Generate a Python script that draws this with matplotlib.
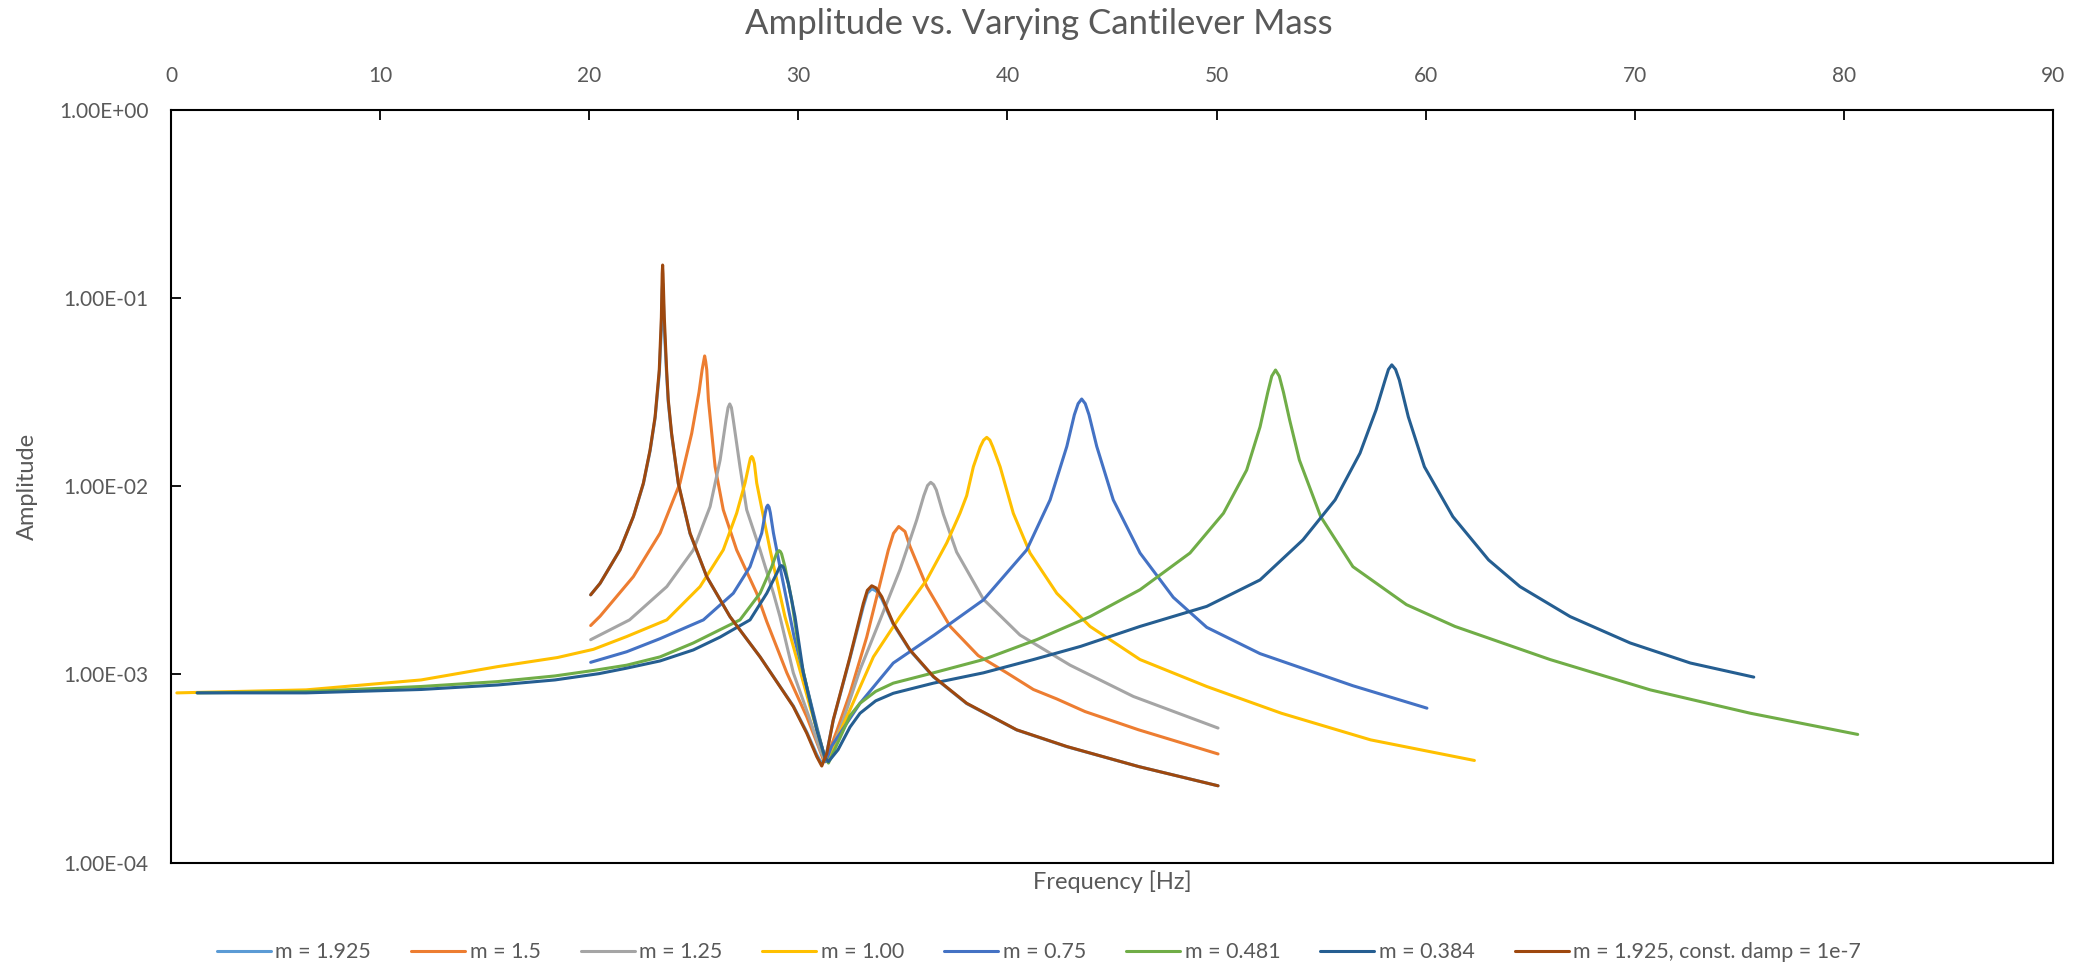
import matplotlib
matplotlib.use('Agg')
import matplotlib.pyplot as plt
from matplotlib.ticker import FixedLocator, FuncFormatter, NullLocator

plt.rcParams['font.family'] = ['Lato', 'DejaVu Sans']

# values (frequency in Hz, amplitude)
f_brown = [20.07, 20.52, 21.47, 22.11, 22.59, 22.91, 23.15, 23.35, 23.45, 23.49, 23.51, 23.53,
           23.59, 23.70, 23.78, 23.94, 24.26, 24.82, 25.62, 26.73, 28.17, 29.12,
           29.76, 30.40, 30.88, 31.12, 31.36, 31.67, 32.47, 33.11, 33.30, 33.51, 33.72, 33.99,
           34.54, 35.34, 36.46, 38.05, 40.44, 42.84, 46.27, 50.07]
a_brown = [2.65e-3, 3.05e-3, 4.59e-3, 6.90e-3, 1.04e-2, 1.56e-2, 2.34e-2, 4.16e-2, 7.94e-2, 0.135, 0.150, 0.135,
           7.94e-2, 4.17e-2, 2.88e-2, 1.91e-2, 1.04e-2, 5.64e-3, 3.31e-3, 2.03e-3, 1.24e-3, 8.63e-4,
           6.75e-4, 4.88e-4, 3.66e-4, 3.26e-4, 3.80e-4, 5.74e-4, 1.24e-3, 2.39e-3, 2.80e-3, 2.96e-3, 2.88e-3, 2.59e-3,
           1.87e-3, 1.35e-3, 9.75e-4, 7.03e-4, 5.08e-4, 4.14e-4, 3.24e-4, 2.56e-4]

f_m1925 = f_brown
a_m1925 = [2.65e-3, 3.05e-3, 4.59e-3, 6.90e-3, 1.03e-2, 1.54e-2, 2.30e-2, 3.95e-2, 6.90e-2, 0.110, 0.120, 0.110,
           6.90e-2, 3.95e-2, 2.80e-2, 1.88e-2, 1.03e-2, 5.60e-3, 3.30e-3, 2.03e-3, 1.24e-3, 8.65e-4,
           6.80e-4, 4.95e-4, 3.75e-4, 3.35e-4, 3.85e-4, 5.70e-4, 1.22e-3, 2.30e-3, 2.70e-3, 2.85e-3, 2.78e-3, 2.52e-3,
           1.85e-3, 1.34e-3, 9.70e-4, 7.00e-4, 5.07e-4, 4.13e-4, 3.24e-4, 2.56e-4]

f_m15 = [20.07, 20.52, 22.11, 23.39, 24.34, 24.90, 25.25, 25.40, 25.47, 25.52, 25.57, 25.62,
         25.70, 26.02, 26.41, 27.05, 28.01, 28.49, 29.45, 30.40, 30.96, 31.23,
         31.50, 31.84, 32.47, 33.27, 33.91, 34.30, 34.55, 34.80, 35.10, 35.34,
         36.14, 37.26, 38.60, 39.97, 41.24, 42.36, 43.71, 46.27, 50.07]
a_m15 = [1.82e-3, 2.04e-3, 3.31e-3, 5.64e-3, 1.04e-2, 1.91e-2, 3.16e-2, 4.17e-2, 4.60e-2, 4.93e-2, 4.60e-2, 4.17e-2,
         2.88e-2, 1.27e-2, 7.50e-3, 4.59e-3, 2.70e-3, 1.91e-3, 1.02e-3, 5.97e-4, 4.14e-4, 3.44e-4,
         3.98e-4, 5.01e-4, 7.94e-4, 1.58e-3, 3.05e-3, 4.57e-3, 5.62e-3, 6.11e-3, 5.75e-3, 4.79e-3,
         2.93e-3, 1.80e-3, 1.26e-3, 1.02e-3, 8.32e-4, 7.41e-4, 6.35e-4, 5.08e-4, 3.78e-4]

f_m125 = [20.07, 21.93, 23.71, 24.98, 25.78, 26.26, 26.54, 26.64, 26.72, 26.80, 26.89, 27.21,
          27.53, 28.17, 28.81, 29.12, 29.76, 30.56, 31.04, 31.30, 31.60, 32.15,
          32.95, 33.91, 34.86, 35.66, 36.00, 36.18, 36.33, 36.47, 36.60, 36.94, 37.57, 38.85,
          40.60, 43.00, 46.02, 50.07]
a_m125 = [1.53e-3, 1.95e-3, 2.93e-3, 4.59e-3, 7.80e-3, 1.38e-2, 2.25e-2, 2.62e-2, 2.74e-2, 2.62e-2, 2.25e-2, 1.27e-2,
          7.50e-3, 4.59e-3, 2.70e-3, 2.03e-3, 1.02e-3, 5.74e-4, 3.97e-4, 3.44e-4, 3.98e-4, 5.74e-4,
          1.06e-3, 1.95e-3, 3.60e-3, 6.62e-3, 8.91e-3, 1.01e-2, 1.05e-2, 1.02e-2, 9.55e-3, 7.08e-3, 4.47e-3, 2.51e-3,
          1.62e-3, 1.12e-3, 7.64e-4, 5.19e-4]

f_m100 = [0.28, 6.46, 11.96, 15.61, 18.48, 20.20, 21.79, 23.71, 25.30, 26.41,
          27.05, 27.45, 27.65, 27.71, 27.77, 27.83, 27.90, 28.01, 28.33, 28.65, 29.04, 29.36,
          29.76, 30.56, 31.12, 31.31, 31.60, 32.47, 33.59, 34.86, 36.14, 37.10,
          37.73, 38.05, 38.37, 38.70, 38.86, 39.01, 39.16, 39.30, 39.65, 40.28, 41.08, 42.36,
          43.95, 46.34, 49.53, 53.10, 57.37, 62.33]
a_m100 = [7.98e-4, 8.28e-4, 9.35e-4, 1.10e-3, 1.23e-3, 1.36e-3, 1.59e-3, 1.95e-3, 2.93e-3, 4.59e-3,
          7.19e-3, 1.04e-2, 1.32e-2, 1.41e-2, 1.44e-2, 1.41e-2, 1.32e-2, 1.04e-2, 6.90e-3, 4.59e-3, 2.93e-3, 2.03e-3,
          1.41e-3, 6.75e-4, 4.14e-4, 3.44e-4, 3.98e-4, 6.49e-4, 1.24e-3, 2.03e-3, 3.18e-3, 5.01e-3,
          7.19e-3, 8.91e-3, 1.27e-2, 1.62e-2, 1.76e-2, 1.82e-2, 1.76e-2, 1.62e-2, 1.27e-2, 7.19e-3, 4.42e-3, 2.70e-3,
          1.80e-3, 1.20e-3, 8.63e-4, 6.22e-4, 4.49e-4, 3.49e-4]

f_m075 = [20.07, 21.79, 23.39, 25.46, 26.89, 27.69, 28.25, 28.42, 28.48, 28.54, 28.60, 28.66,
          28.81, 29.12, 29.44, 29.80, 30.24, 30.88, 31.31, 31.60, 32.95, 34.54,
          36.50, 38.85, 40.92, 42.04, 42.84, 43.20, 43.38, 43.55, 43.72, 43.90, 44.27, 45.06,
          46.34, 47.93, 49.53, 52.08, 56.52, 60.06]
a_m075 = [1.16e-3, 1.32e-3, 1.55e-3, 1.95e-3, 2.70e-3, 3.74e-3, 5.64e-3, 7.24e-3, 7.75e-3, 7.94e-3, 7.75e-3, 7.24e-3,
          5.64e-3, 3.74e-3, 2.49e-3, 1.58e-3, 1.02e-3, 5.28e-4, 3.44e-4, 4.17e-4, 7.03e-4, 1.15e-3,
          1.62e-3, 2.49e-3, 4.59e-3, 8.47e-3, 1.63e-2, 2.40e-2, 2.75e-2, 2.91e-2, 2.75e-2, 2.40e-2, 1.63e-2, 8.47e-3,
          4.42e-3, 2.57e-3, 1.78e-3, 1.29e-3, 8.71e-4, 6.62e-4]

f_m0481 = [1.25, 6.46, 11.96, 15.61, 18.36, 20.20, 21.79, 23.39, 24.98, 26.26,
           27.21, 28.17, 28.73, 28.95, 29.02, 29.08, 29.14, 29.20, 29.36, 29.68, 30.08, 30.72,
           31.20, 31.44, 31.90, 32.47, 32.95, 33.70, 34.54, 36.46, 38.85, 41.40,
           43.95, 46.34, 48.73, 50.33, 51.44, 52.08, 52.45, 52.64, 52.82, 53.00, 53.20, 53.50,
           53.96, 54.98, 56.52, 59.08, 61.40, 65.95, 70.74, 75.53, 80.66]
a_m0481 = [7.98e-4, 8.11e-4, 8.63e-4, 9.16e-4, 9.82e-4, 1.05e-3, 1.12e-3, 1.24e-3, 1.47e-3, 1.73e-3,
           1.95e-3, 2.70e-3, 3.74e-3, 4.37e-3, 4.50e-3, 4.55e-3, 4.50e-3, 4.37e-3, 3.74e-3, 2.49e-3, 1.24e-3, 5.97e-4,
           3.82e-4, 3.38e-4, 4.37e-4, 6.03e-4, 7.03e-4, 8.13e-4, 8.99e-4, 1.02e-3, 1.20e-3, 1.53e-3,
           2.03e-3, 2.82e-3, 4.42e-3, 7.19e-3, 1.22e-2, 2.07e-2, 3.16e-2, 3.85e-2, 4.15e-2, 3.85e-2, 3.16e-2, 2.24e-2,
           1.38e-2, 6.90e-3, 3.74e-3, 2.35e-3, 1.80e-3, 1.20e-3, 8.28e-4, 6.22e-4, 4.80e-4]

f_m0384 = [1.25, 6.46, 11.96, 15.61, 18.36, 20.47, 21.79, 23.39, 24.98, 26.26,
           27.69, 28.49, 28.97, 29.10, 29.20, 29.28, 29.35, 29.52, 29.84, 30.24, 30.88, 31.28,
           31.44, 31.90, 32.47, 32.95, 33.70, 34.54, 36.46, 38.85, 41.24, 43.50,
           46.34, 49.53, 52.08, 54.13, 55.67, 56.86, 57.63, 58.06, 58.22, 58.38, 58.56, 58.74,
           59.17, 59.94, 61.30, 63.01, 64.51, 66.91, 69.78, 72.66, 75.69]
a_m0384 = [7.98e-4, 7.98e-4, 8.32e-4, 8.79e-4, 9.35e-4, 1.01e-3, 1.08e-3, 1.18e-3, 1.35e-3, 1.58e-3,
           1.95e-3, 2.70e-3, 3.45e-3, 3.72e-3, 3.79e-3, 3.72e-3, 3.55e-3, 3.05e-3, 2.03e-3, 1.02e-3, 5.08e-4, 3.60e-4,
           3.44e-4, 3.98e-4, 5.25e-4, 6.22e-4, 7.24e-4, 7.94e-4, 8.99e-4, 1.02e-3, 1.20e-3, 1.41e-3,
           1.80e-3, 2.30e-3, 3.18e-3, 5.19e-3, 8.47e-3, 1.50e-2, 2.55e-2, 3.67e-2, 4.18e-2, 4.42e-2, 4.18e-2, 3.67e-2,
           2.34e-2, 1.27e-2, 6.90e-3, 4.06e-3, 2.93e-3, 2.03e-3, 1.47e-3, 1.15e-3, 9.68e-4]

labels = ['m = 1.925', 'm = 1.5', 'm = 1.25', 'm = 1.00', 'm = 0.75',
          'm = 0.481', 'm = 0.384', 'm = 1.925, const. damp = 1e-7']
freqs = [f_m1925, f_m15, f_m125, f_m100, f_m075, f_m0481, f_m0384, f_brown]
amps = [a_m1925, a_m15, a_m125, a_m100, a_m075, a_m0481, a_m0384, a_brown]
colors = ['#5B9BD5', '#ED7D31', '#A5A5A5', '#FFC000', '#4472C4', '#70AD47', '#255E91', '#9E480E']

W, H = 2078, 969
fig = plt.figure(figsize=(W / 100, H / 100), dpi=100)
ax = fig.add_axes([171 / W, 1 - 862.6 / H, 1882 / W, 752.6 / H])

handles = []
for f, a, c, lab in zip(freqs, amps, colors, labels):
    h, = ax.plot(f, a, color=c, lw=2.2, label=lab, solid_joinstyle='round', solid_capstyle='round')
    handles.append(h)

ax.set_yscale('log')
ax.set_ylim(1e-4, 1)
ax.set_xlim(0, 90)
ax.xaxis.tick_top()
ax.set_xticks(range(0, 91, 10))
ax.yaxis.set_major_locator(FixedLocator([1e-4, 1e-3, 1e-2, 1e-1, 1]))
ax.yaxis.set_minor_locator(NullLocator())
ax.yaxis.set_major_formatter(FuncFormatter(lambda v, p: f'{v:.2E}'))

txt = '#595959'
ax.tick_params(direction='in', length=7, width=1.3, color='black', labelcolor=txt, labelsize=15)
ax.tick_params(axis='x', pad=17)
ax.tick_params(axis='y', pad=16)
for s in ax.spines.values():
    s.set_color('black')
    s.set_linewidth(1.5)

fig.text(0.5, 1 - 24 / H, 'Amplitude vs. Varying Cantilever Mass', ha='center', va='center',
         fontsize=25, color=txt)
fig.text(1112 / W, 1 - 882 / H, 'Frequency [Hz]', ha='center', va='center', fontsize=17, color=txt)
fig.text(27 / W, 1 - 486 / H, 'Amplitude', ha='center', va='center', rotation=90, fontsize=17, color=txt)

fig.legend(handles, labels, loc='center', bbox_to_anchor=(0.5, 1 - 952 / H), ncol=8, frameon=False,
           fontsize=15.4, handlelength=2.52, handletextpad=0.22, columnspacing=1.87, labelcolor=txt)

fig.savefig('out.png', dpi=100)
